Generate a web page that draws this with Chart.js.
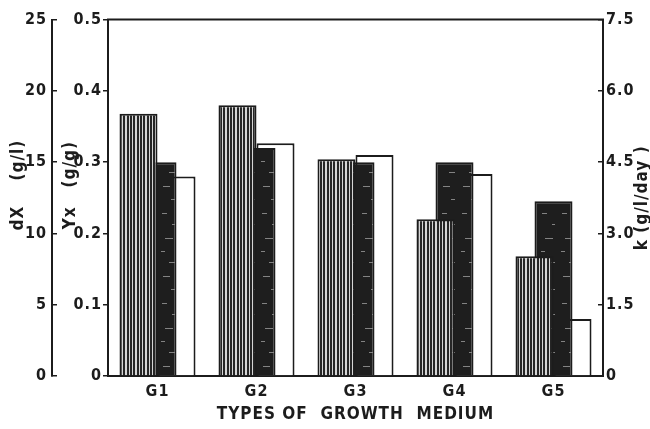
<!DOCTYPE html>
<html>
<head>
<meta charset="utf-8">
<script src="https://cdn.jsdelivr.net/npm/chart.js@4.4.0/dist/chart.umd.min.js"></script>
<style>
  html, body { margin: 0; padding: 0; background: #fff; }
  #wrap { width: 650px; height: 429px; }
</style>
</head>
<body>
<div id="wrap"><canvas id="chart" width="650" height="429"></canvas></div>
<script>
// growth media along the x axis
const media = ['G1', 'G2', 'G3', 'G4', 'G5'];

// dX (g/l) - striped bars, outer left axis
const dX = [18.4, 19.0, 15.2, 11.0, 8.4];
// Yx (g/g) - dark bars, inner left axis
const Yx = [0.30, 0.32, 0.30, 0.30, 0.245];
// k (g/l/day) - white bars, right axis
const k = [4.2, 4.9, 4.65, 4.25, 1.2];

const dXTicks = ['0', '5', '10', '15', '20', '25'];
const YxTicks = ['0', '0.1', '0.2', '0.3', '0.4', '0.5'];
const kTicks = ['0', '1.5', '3.0', '4.5', '6.0', '7.5'];

const INK = '#1c1c1c';
const FONT = "'DejaVu Sans Condensed', 'DejaVu Sans', sans-serif";
const tickFont = { family: FONT, size: 16, weight: 'bold' };
const titleFont = { family: FONT, size: 17, weight: 'bold' };

// vertical hatching for the dX bars
function stripes() {
    const c = document.createElement('canvas');
    c.width = 10; c.height = 4;
    const g = c.getContext('2d');
    g.fillStyle = '#d6d6d6';
    g.fillRect(0, 0, 10, 4);
    g.fillStyle = '#262626';
    [0, 3, 7].forEach(x => g.fillRect(x, 0, 2, 4));
    return g.createPattern(c, 'repeat');
}

// near-black fill with a few light flecks for the Yx bars
function specks() {
    const c = document.createElement('canvas');
    c.width = 20; c.height = 90;
    const g = c.getContext('2d');
    g.fillStyle = '#1e1e1e';
    g.fillRect(0, 0, 20, 90);
    g.fillStyle = 'rgba(255,255,255,0.45)';
    [[3, 6, 7], [11, 19, 4], [2, 33, 5], [12, 44, 3], [5, 58, 8], [1, 71, 4], [9, 82, 6]]
        .forEach(([x, y, w]) => g.fillRect(x, y, w, 1));
    return g.createPattern(c, 'repeat');
}

// top edge of the box + the right-hand title, which reads upwards like the left ones
const frame = {
    id: 'frame',
    beforeDraw(chart) {
        chart.ctx.letterSpacing = '1px';
    },
    afterDraw(chart) {
        const { ctx, chartArea: a } = chart;
        ctx.save();
        ctx.strokeStyle = INK;
        ctx.lineWidth = 2;
        ctx.beginPath();
        ctx.moveTo(a.left - 1, a.top);
        ctx.lineTo(a.right + 1, a.top);
        ctx.stroke();

        ctx.translate(643, (a.top + a.bottom) / 2);
        ctx.rotate(-Math.PI / 2);
        ctx.font = 'bold 17px ' + FONT;
        ctx.fillStyle = INK;
        ctx.textAlign = 'center';
        ctx.textBaseline = 'middle';
        ctx.fillText('k (g/l/day )', 0, 0);
        ctx.restore();
    }
};

new Chart(document.getElementById('chart'), {
    type: 'bar',
    data: {
        labels: media,
        datasets: [
            { label: 'dX', data: dX, yAxisID: 'dX', backgroundColor: stripes(), borderColor: INK, borderWidth: 2 },
            { label: 'Yx', data: Yx, yAxisID: 'Yx', backgroundColor: specks(), borderColor: INK, borderWidth: 2 },
            { label: 'k', data: k, yAxisID: 'k', backgroundColor: '#ffffff', borderColor: INK, borderWidth: 2 }
        ]
    },
    options: {
        responsive: false,
        animation: false,
        devicePixelRatio: 1,
        layout: { padding: { top: 17, left: 0, right: 0, bottom: 0 } },
        datasets: {
            bar: { categoryPercentage: 0.576, barPercentage: 2 }
        },
        plugins: {
            legend: { display: false },
            tooltip: { enabled: false }
        },
        scales: {
            x: {
                grid: { display: false, drawTicks: false },
                border: { display: true, color: INK, width: 2 },
                ticks: { color: INK, font: { family: FONT, size: 16, weight: 'bold' }, padding: 6 },
                title: {
                    display: true,
                    text: 'TYPES OF  GROWTH  MEDIUM',
                    color: INK,
                    font: titleFont,
                    padding: { top: 0, bottom: 4 }
                },
                afterFit: s => { s.height = 53; }
            },
            dX: {
                position: 'left',
                weight: 2,
                min: 0,
                max: 25,
                ticks: { stepSize: 5, color: INK, font: tickFont, padding: 10, callback: (v, i) => dXTicks[i] },
                grid: { drawOnChartArea: false, tickLength: -5, color: INK, lineWidth: 1.5 },
                border: { color: INK, width: 2 },
                title: { display: true, text: '    dX    (g/l)', color: INK, font: titleFont, padding: { top: 8, bottom: 0 } },
                afterFit: s => { s.width = 52; }
            },
            Yx: {
                position: 'left',
                weight: 1,
                min: 0,
                max: 0.5,
                ticks: { stepSize: 0.1, color: INK, font: tickFont, padding: 1, callback: (v, i) => YxTicks[i] },
                grid: { drawOnChartArea: false, tickLength: 5, color: INK, lineWidth: 1.5 },
                border: { color: INK, width: 2 },
                title: { display: true, text: '    Yx   (g/g)', color: INK, font: titleFont, padding: { top: 8, bottom: 0 } },
                afterFit: s => { s.width = 56; }
            },
            k: {
                position: 'right',
                min: 0,
                max: 7.5,
                ticks: { stepSize: 1.5, color: INK, font: tickFont, padding: 8, callback: (v, i) => kTicks[i] },
                grid: { drawOnChartArea: false, tickLength: -5, color: INK, lineWidth: 1.5 },
                border: { color: INK, width: 2 },
                afterFit: s => { s.width = 47; }
            }
        }
    },
    plugins: [frame]
});
</script>
</body>
</html>
